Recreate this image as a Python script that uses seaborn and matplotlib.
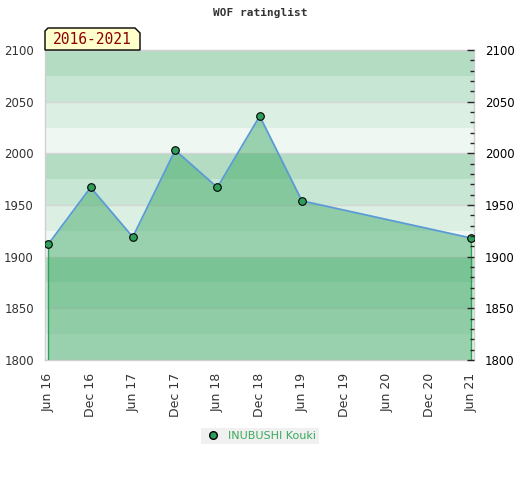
import pandas as pd
import seaborn as sns
import matplotlib.pyplot as plt
import matplotlib.dates as mdates
from matplotlib.lines import Line2D
from matplotlib.patches import Polygon
from matplotlib.ticker import MultipleLocator

# Rating list values
dates = ["2016-06-01", "2016-12-01", "2017-06-01", "2017-12-01",
         "2018-06-01", "2018-12-01", "2019-06-01", "2021-06-01"]
ratings = [1912, 1967, 1919, 2003, 1967, 2036, 1954, 1918]
player = "INUBUSHI Kouki"
period = "2016-2021"

tick_dates = ["2016-06-01", "2016-12-01", "2017-06-01", "2017-12-01", "2018-06-01",
              "2018-12-01", "2019-06-01", "2019-12-01", "2020-06-01", "2020-12-01",
              "2021-06-01"]

df = pd.DataFrame({"date": pd.to_datetime(dates), "rating": ratings})

sns.set_style("white")

fig = plt.figure(figsize=(5.2, 4.8), dpi=100)
ax = fig.add_axes([45 / 520, 1 - 360 / 480, 429 / 520, 310 / 480])

ymin, ymax = 1800, 2100
band_cols = ["#eef7f2", "#dcefe3", "#c8e6d4", "#b3dcc3"]
for lo in range(ymin, ymax, 25):
    ax.axhspan(lo, lo + 25, color=band_cols[(lo // 25) % 4], lw=0, zorder=0)
for y in range(ymin, ymax + 1, 50):
    ax.axhline(y, color="#d6d6d6", lw=1, zorder=0.5)

ax.fill_between(df["date"], df["rating"], ymin, color="#3ba762", alpha=0.47,
                lw=0, zorder=1)
sns.lineplot(data=df, x="date", y="rating", ax=ax, color="#5b9bd5", lw=1.3,
             zorder=2)
ax.scatter(df["date"], df["rating"], s=30, color="#2e9e5a", edgecolor="black",
           linewidth=0.8, zorder=4)
# drop lines at both ends
for d, r in [(df["date"].iloc[0], ratings[0]), (df["date"].iloc[-1], ratings[-1])]:
    ax.plot([d, d], [ymin, r], color="#2ea05a", lw=1, zorder=3)

ax.set_ylim(ymin, ymax)
ax.set_xlim(pd.Timestamp("2016-05-18"), pd.Timestamp("2021-06-13"))
ax.set_xticks(pd.to_datetime(tick_dates))
ax.xaxis.set_major_formatter(mdates.DateFormatter("%b %y"))
ax.tick_params(axis="x", labelrotation=90, length=0, pad=9, labelsize=9,
               labelcolor="#333333")
ax.set_yticks(range(ymin, ymax + 1, 50))
ax.tick_params(axis="y", length=0, pad=8, labelsize=8.5, labelcolor="#333333")
ax.set_xlabel("")
ax.set_ylabel("")
for s in ax.spines.values():
    s.set_color("#d0d0d0")
    s.set_linewidth(1)

ax2 = ax.twinx()
ax2.set_ylim(ymin, ymax)
ax2.yaxis.set_major_locator(MultipleLocator(50))
ax2.yaxis.set_minor_locator(MultipleLocator(10))
ax2.tick_params(axis="y", which="major", direction="in", length=5, width=1,
                labelsize=8.5, labelcolor="black", pad=8)
ax2.tick_params(axis="y", which="minor", direction="in", length=3, width=1)
for s in ax2.spines.values():
    s.set_visible(False)

fig.text(0.5, 1 - 13 / 480, "WOF ratinglist", ha="center", va="center",
         family="DejaVu Sans Mono", fontweight="bold", fontsize=8, color="#333333")

# period tag above the plot
px = [(45, 50), (45, 31), (48, 28), (135, 28), (140, 33), (140, 50)]
tag = Polygon([(x / 520, 1 - y / 480) for x, y in px], closed=True,
              facecolor="#ffffcc", edgecolor="black", lw=1,
              transform=fig.transFigure)
fig.patches.append(tag)
fig.text(92 / 520, 1 - 40 / 480, period, ha="center", va="center",
         family="DejaVu Sans Mono", fontsize=10.5, color="#8b0000")

handle = Line2D([], [], ls="none", marker="o", markersize=5.5,
                markerfacecolor="#2e9e5a", markeredgecolor="black")
leg = ax.legend([handle], [player], loc="center",
                bbox_to_anchor=(0.5, 1 - 436 / 480), bbox_transform=fig.transFigure,
                frameon=True, fancybox=False, facecolor="#f0f0f0",
                edgecolor="none", framealpha=1, fontsize=8,
                handletextpad=0.5, handlelength=1.6, borderpad=0.3)
for t in leg.get_texts():
    t.set_color("#3aaa5c")

fig.savefig("out.png", dpi=100)
